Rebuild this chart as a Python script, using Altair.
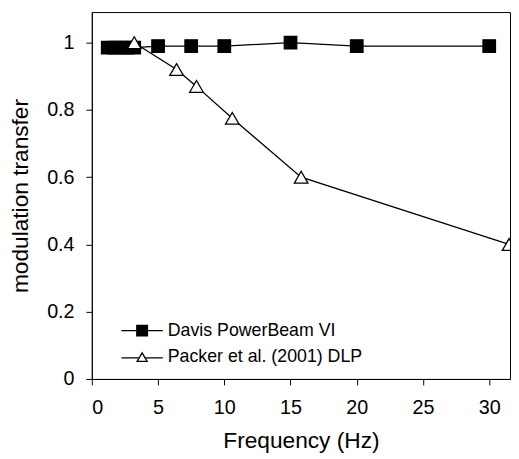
import altair as alt
import pandas as pd

# ---- data ----
davis_freq = [1.2, 1.7, 2.2, 2.7, 3.2, 5, 7.5, 10, 15, 20, 30]
davis_mt = [0.985, 0.985, 0.985, 0.985, 0.985, 0.99, 0.99, 0.99, 1.0, 0.99, 0.99]
packer_freq = [3.2, 6.4, 7.9, 10.6, 15.8, 31.5]
packer_mt = [1.0, 0.92, 0.87, 0.775, 0.60, 0.40]
series_names = ["Davis PowerBeam VI", "Packer et al. (2001) DLP"]
x_ticks = [0, 5, 10, 15, 20, 25, 30]
y_ticks = [0, 0.2, 0.4, 0.6, 0.8, 1.0]

df = pd.concat([
    pd.DataFrame({"freq": davis_freq, "mt": davis_mt, "series": series_names[0]}),
    pd.DataFrame({"freq": packer_freq, "mt": packer_mt, "series": series_names[1]}),
], ignore_index=True)

FONT = "Liberation Sans, Arial, sans-serif"

x_enc = alt.X("freq:Q", title="Frequency (Hz)",
              scale=alt.Scale(domain=[0, 31.57], nice=False, zero=False),
              axis=alt.Axis(values=x_ticks, format="~g"))
y_enc = alt.Y("mt:Q", title="modulation transfer",
              scale=alt.Scale(domain=[0, 1.091], nice=False),
              axis=alt.Axis(values=y_ticks, format="~g"))

lines = alt.Chart(df).mark_line(color="black", strokeWidth=1.3, clip=True).encode(
    x=x_enc, y=y_enc, detail="series:N"
)

points = alt.Chart(df).mark_point(filled=True, stroke="black", strokeWidth=1.3,
                                  opacity=1, clip=True).encode(
    x=x_enc, y=y_enc,
    shape=alt.Shape("series:N", scale=alt.Scale(domain=series_names, range=["square", "triangle-up"]), legend=None),
    fill=alt.Fill("series:N", scale=alt.Scale(domain=series_names, range=["black", "white"]), legend=None),
    size=alt.Size("series:N", scale=alt.Scale(domain=series_names, range=[160, 190]), legend=None),
)

davis_sym = "M-3.5,0H3.5M-0.9,-0.9H0.9V0.9H-0.9Z"
packer_sym = "M-3.5,0.1H-0.46M0.46,0.1H3.5M0,-0.75L0.85,0.7L-0.85,0.7Z"

leg = alt.Legend(orient="none", legendX=42, legendY=314, title=None,
                 symbolSize=144, symbolStrokeWidth=1.3, symbolStrokeColor="black",
                 labelFont=FONT, labelFontSize=18, labelColor="black", labelLimit=0,
                 labelOffset=17, rowPadding=9, padding=0)

legend_layer = alt.Chart(df).transform_filter("false").mark_point(
    filled=True, opacity=1).encode(
    shape=alt.Shape("series:N", scale=alt.Scale(domain=series_names, range=[davis_sym, packer_sym]), legend=leg),
    fill=alt.Fill("series:N", scale=alt.Scale(domain=series_names, range=["black", "white"]), legend=leg),
    stroke=alt.Stroke("series:N", scale=alt.Scale(domain=series_names, range=["black", "black"]), legend=leg),
)

chart = alt.layer(lines, points, legend_layer).resolve_scale(
    shape="independent", fill="independent", stroke="independent"
).properties(
    width=424, height=372,
    autosize="none",
    padding={"left": 85, "top": 1, "right": 1, "bottom": 76},
).configure_view(
    stroke="black", strokeWidth=1
).configure_axis(
    grid=False, domainColor="black", domainWidth=1, tickColor="black", tickWidth=1,
    tickSize=6, labelFont=FONT, labelFontSize=20, labelColor="black",
    titleFont=FONT, titleFontSize=23, titleFontWeight="normal", titleColor="black",
).configure_axisX(
    labelPadding=13, titlePadding=12
).configure_axisY(
    labelPadding=12, titlePadding=14
)

chart.save("out.html", embed_options={"renderer": "svg", "actions": False})
